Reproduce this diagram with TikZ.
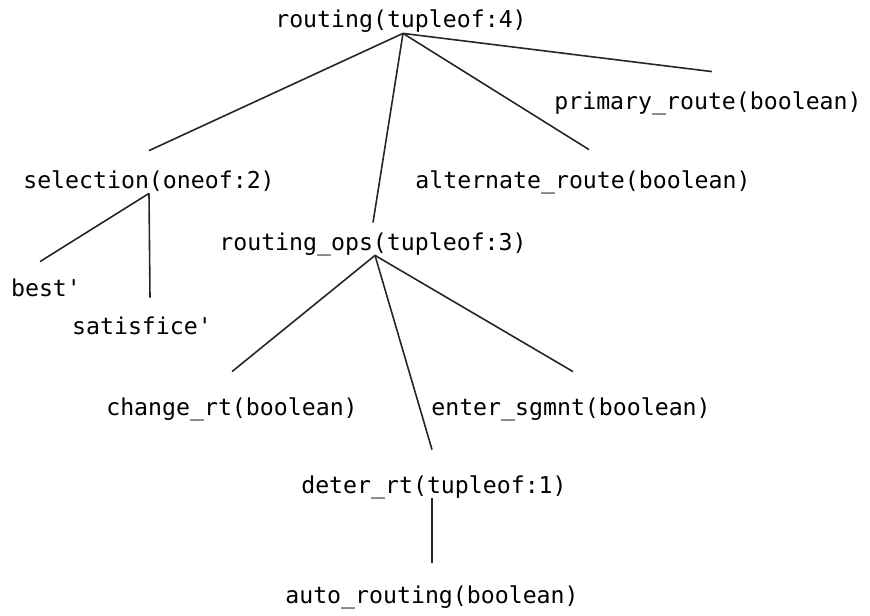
\documentclass[tikz,border=0pt]{standalone}
\usepackage{fontspec}
\setmonofont{DejaVu Sans Mono}
\usepackage{tikz}
\usetikzlibrary{positioning, calc}

\begin{document}
\begin{tikzpicture}[x=0.5pt, y=-0.5pt,
  campo/.style={anchor=center, inner sep=0pt, text height=8.5pt, text depth=2.5pt,
    font=\fontsize{11.6}{13}\selectfont\ttfamily},
  ramo/.style={line width=0.8pt, color=black!85}]
% --- MOLDURA DA FIGURA ---
\useasboundingbox (0,0) rectangle (870,615);

% LAYER 1: Nos da arvore
\node[campo] (routing) at (401,22) {routing(tupleof:4)};
\node[campo] (primary) at (708,103) {primary\_route(boolean)};
\node[campo] (selection) at (149,182) {selection(oneof:2)};
\node[campo] (alternate) at (583,182) {alternate\_route(boolean)};
\node[campo] (ops) at (373,244) {routing\_ops(tupleof:3)};
\node[campo] (best) at (46,290) {best'};
\node[campo] (satisfice) at (142,328) {satisfice'};
\node[campo] (change) at (232,409) {change\_rt(boolean)};
\node[campo] (enter) at (571,409) {enter\_sgmnt(boolean)};
\node[campo] (deter) at (434,487) {deter\_rt(tupleof:1)};
\node[campo] (auto) at (432,597) {auto\_routing(boolean)};

% LAYER 2: Ramos
\draw[ramo] ([xshift=1pt]routing.south) -- ([yshift=10pt]selection.north);
\draw[ramo] ([xshift=1pt]routing.south) -- ([yshift=5pt]ops.north);
\draw[ramo] ([xshift=1pt]routing.south) -- ([shift={(3pt,10.5pt)}]alternate.north);
\draw[ramo] ([xshift=1pt]routing.south) -- ([shift={(2pt,10pt)}]primary.north);
\draw[ramo] (selection.south) -- ([shift={(-3pt,8.5pt)}]best.north);
\draw[ramo] (selection.south) -- ([shift={(4pt,9.5pt)}]satisfice.north);
\draw[ramo] ([xshift=1pt]ops.south) -- ([yshift=13pt]change.north);
\draw[ramo] ([xshift=1pt]ops.south) -- ([shift={(-1pt,13pt)}]deter.north);
\draw[ramo] ([xshift=1pt]ops.south) -- ([shift={(1pt,13pt)}]enter.north);
\draw[ramo] ([xshift=-1pt]deter.south) -- ([yshift=11.5pt]auto.north);
\end{tikzpicture}
\end{document}
